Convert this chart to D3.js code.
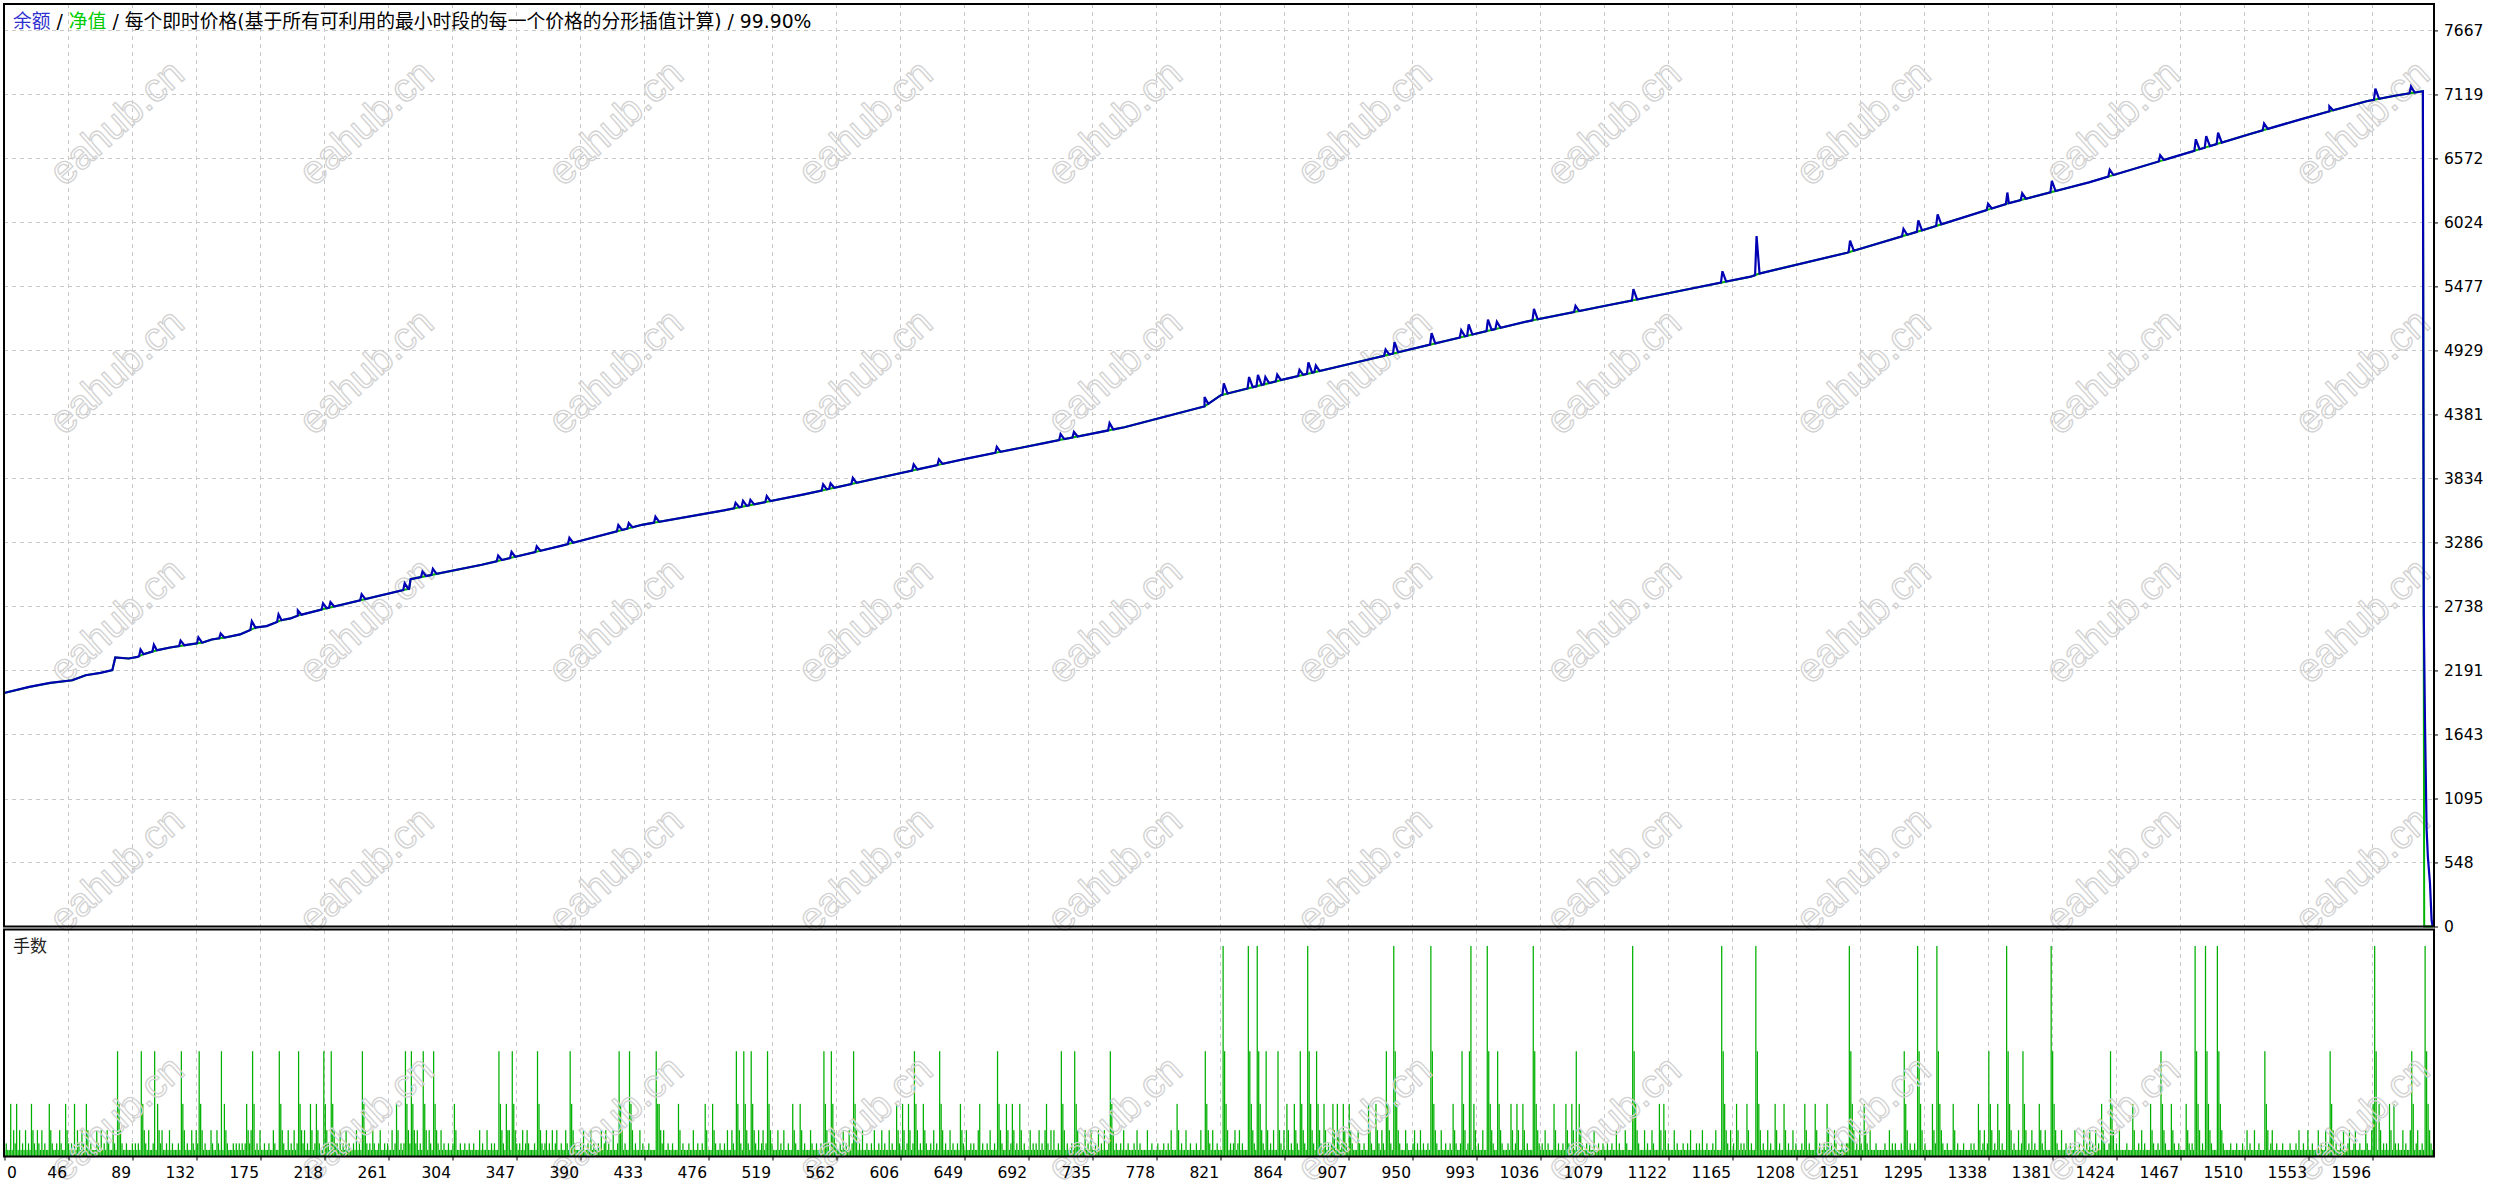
<!DOCTYPE html>
<html>
<head>
<meta charset="utf-8">
<script src="https://cdn.jsdelivr.net/npm/d3@7"></script>
<style>
  body { margin: 0; background: #fff; }
  svg { display: block; }
</style>
</head>
<body>
<svg id="chart" width="2519" height="1186"></svg>
<script>
// ---- data ----
var yTickLabels = [0, 548, 1095, 1643, 2191, 2738, 3286, 3834, 4381, 4929, 5477, 6024, 6572, 7119, 7667]
var xTickLabels = [0, 46, 89, 132, 175, 218, 261, 304, 347, 390, 433, 476, 519, 562, 606, 649, 692, 735, 778,
    821, 864, 907, 950, 993, 1036, 1079, 1122, 1165, 1208, 1251, 1295, 1338, 1381, 1424, 1467, 1510, 1553, 1596]
var TRADES = 1637

// balance / equity base line (trade number, value)
var baseTrade = [0, 17, 31, 46, 55, 65, 73, 75, 84, 90, 94, 103, 112, 122, 134, 140, 149, 159, 170, 177, 187, 193,
    198, 214, 273, 274, 322, 376, 430, 485, 539, 593, 647, 701, 755, 809, 820, 863, 918, 972, 1026, 1080, 1134,
    1177, 1183, 1242, 1296, 1351, 1405, 1459, 1513, 1547, 1567, 1592, 1612, 1630]
var baseValue = [1998, 2050, 2084, 2107, 2150, 2170, 2193, 2302, 2293, 2307, 2330, 2364, 2387, 2407, 2430, 2456,
    2473, 2499, 2559, 2570, 2621, 2636, 2660, 2712, 2890, 2972, 3095, 3259, 3437, 3560, 3697, 3848, 3999, 4136,
    4272, 4450, 4546, 4683, 4847, 5012, 5176, 5313, 5450, 5560, 5587, 5765, 5970, 6189, 6367, 6572, 6778, 6904,
    6975, 7061, 7110, 7147]
// small bumps of the blue line (trade number, rise above the base line)
var bumpTrade = [92, 101, 119, 131, 146, 167, 185, 198,
    215, 220, 241, 270, 282, 289,
    333, 342, 359, 381,
    414, 421, 439,
    493, 498, 503, 514,
    552, 557, 572,
    613, 630, 669,
    712, 721, 745,
    809, 822,
    839, 845, 850, 858,
    873, 879, 884,
    931, 937,
    962,
    982, 987,
    1000, 1006,
    1031, 1059,
    1098,
    1158, 1181,
    1244,
    1280, 1290, 1303,
    1337, 1350, 1360, 1380,
    1419, 1453,
    1477, 1484, 1492,
    1523, 1567, 1598, 1622]
var bumpRise = [51, 55, 45, 50, 40, 70, 60, 44,
    50, 45, 50, 55, 45, 50,
    45, 50, 45, 50,
    50, 45, 50,
    45, 50, 45, 50,
    50, 45, 50,
    50, 45, 50,
    50, 45, 60,
    80, 95,
    95, 95, 60, 55,
    50, 95, 55,
    50, 95,
    95,
    60, 95,
    95, 60,
    95, 50,
    95,
    95, 330,
    95,
    60, 95, 95,
    50, 95, 55, 95,
    55, 50,
    95, 95, 95,
    55, 43, 94, 57]
// final collapse of the balance
var dropTrade = [1630.6, 1631.4, 1632.5, 1633.4, 1634.8, 1635.9, 1636.6]
var dropValue = [2681, 1764, 839, 591, 368, 51, 0]

// lots per trade (every trade not listed below is 0.01)
var lot32 = [821, 838, 844, 878, 936, 961, 988, 999, 1030, 1097, 1157, 1180, 1243, 1289, 1302, 1349, 1379, 1476,
    1483, 1491, 1597, 1631]
var lot16 = [76, 92, 101, 119, 131, 146, 167, 185, 198, 215, 220, 241, 270, 274, 282, 289, 333, 342, 359, 381, 414,
    421, 439, 493, 498, 503, 514, 552, 557, 572, 613, 630, 669, 712, 721, 745, 809, 822, 839, 845, 850, 858, 873,
    879, 884, 931, 937, 962, 982, 987, 1000, 1006, 1031, 1059, 1098, 1158, 1181, 1244, 1280, 1290, 1303, 1337,
    1350, 1360, 1380, 1419, 1453, 1477, 1484, 1492, 1523, 1567, 1598, 1622, 1632]
var lot08 = [4, 8, 18, 30, 41, 47, 55, 77, 93, 103, 120, 132, 148, 163, 168, 186, 199, 206, 210, 216, 221, 242, 264,
    271, 275, 283, 290, 303, 334, 338, 343, 360, 382, 415, 422, 440, 441, 454, 472, 477, 494, 499, 504, 515, 531,
    536, 553, 558, 573, 601, 605, 609, 614, 619, 631, 644, 657, 670, 675, 679, 684, 702, 713, 722, 746, 790, 810,
    823, 840, 846, 864, 869, 874, 880, 885, 889, 895, 898, 902, 906, 919, 924, 932, 938, 963, 976, 983, 990,
    1001, 1007, 1015, 1019, 1023, 1032, 1044, 1052, 1056, 1061, 1099, 1115, 1118, 1159, 1167, 1174, 1182, 1193,
    1199, 1213, 1220, 1228, 1245, 1253, 1281, 1291, 1299, 1304, 1313, 1330, 1338, 1343, 1351, 1361, 1371, 1381,
    1413, 1420, 1434, 1446, 1454, 1460, 1470, 1478, 1485, 1493, 1524, 1568, 1596, 1600, 1607, 1610, 1623, 1633]
var lot04 = [6, 10, 14, 19, 22, 25, 31, 37, 42, 49, 52, 56, 62, 65, 69, 73, 78, 94, 97, 104, 106, 111, 121, 126, 129,
    133, 139, 143, 149, 164, 166, 172, 181, 187, 191, 195, 200, 202, 207, 211, 217, 222, 226, 230, 237, 243, 248,
    253, 261, 265, 272, 276, 278, 284, 286, 291, 294, 304, 320, 325, 335, 339, 340, 344, 349, 352, 361, 365, 369,
    372, 378, 383, 390, 395, 402, 405, 410, 416, 423, 428, 442, 444, 455, 464, 473, 478, 487, 490, 495, 500, 505,
    508, 511, 516, 521, 525, 532, 537, 543, 554, 559, 565, 569, 574, 578, 586, 591, 596, 602, 606, 610, 615, 620,
    626, 632, 637, 645, 648, 656, 664, 671, 676, 680, 685, 691, 697, 701, 705, 707, 714, 723, 728, 732, 737, 741,
    747, 754, 763, 770, 786, 791, 796, 806, 811, 814, 824, 829, 832, 841, 847, 851, 855, 859, 862, 865, 870, 875,
    881, 886, 890, 896, 899, 903, 907, 912, 920, 925, 928, 933, 939, 944, 950, 954, 964, 968, 977, 984, 991, 996,
    1002, 1008, 1016, 1020, 1024, 1033, 1038, 1045, 1053, 1057, 1062, 1071, 1086, 1092, 1100, 1105, 1110, 1116,
    1119, 1125, 1136, 1144, 1153, 1160, 1163, 1168, 1175, 1183, 1188, 1194, 1200, 1205, 1214, 1221, 1229, 1233,
    1246, 1250, 1254, 1257, 1270, 1282, 1292, 1300, 1305, 1314, 1331, 1334, 1339, 1344, 1352, 1357, 1362, 1366,
    1372, 1375, 1382, 1386, 1395, 1401, 1405, 1409, 1414, 1421, 1425, 1435, 1440, 1447, 1455, 1461, 1471, 1479,
    1486, 1494, 1511, 1516, 1525, 1528, 1546, 1552, 1559, 1564, 1569, 1576, 1580, 1584, 1591, 1595, 1601, 1608,
    1616, 1621, 1626, 1634]
var lot02 = [1, 7, 12, 16, 20, 23, 27, 32, 35, 38, 43, 45, 50, 53, 58, 63, 67, 70, 74, 79, 82, 86, 88, 90, 95, 100,
    105, 109, 113, 117, 123, 127, 130, 135, 140, 144, 150, 154, 156, 158, 160, 162, 165, 170, 175, 178, 182, 188,
    193, 197, 201, 204, 209, 212, 218, 223, 224, 228, 232, 235, 239, 244, 246, 249, 252, 256, 258, 263, 267, 269,
    273, 277, 280, 287, 292, 296, 299, 302, 307, 310, 313, 316, 322, 328, 330, 336, 345, 347, 351, 353, 357, 362,
    364, 367, 371, 375, 379, 384, 388, 393, 397, 400, 404, 407, 413, 418, 425, 430, 434, 443, 447, 450, 457, 461,
    467, 470, 479, 482, 485, 491, 496, 501, 506, 510, 513, 517, 523, 528, 533, 539, 544, 547, 550, 555, 560, 563,
    567, 571, 576, 581, 584, 589, 593, 598, 603, 608, 612, 617, 621, 624, 628, 634, 639, 642, 646, 651, 653, 659,
    662, 667, 672, 678, 682, 687, 693, 695, 699, 703, 710, 716, 719, 724, 730, 735, 739, 744, 749, 752, 757, 761,
    765, 773, 777, 781, 784, 793, 799, 803, 812, 817, 826, 828, 831, 834, 842, 848, 853, 860, 867, 871, 876, 882,
    887, 892, 894, 901, 904, 908, 913, 916, 921, 926, 929, 934, 940, 945, 949, 952, 956, 959, 965, 971, 974, 978,
    981, 986, 993, 1003, 1009, 1013, 1018, 1026, 1034, 1036, 1040, 1047, 1050, 1054, 1063, 1066, 1068, 1074, 1077,
    1080, 1083, 1088, 1093, 1101, 1107, 1111, 1121, 1127, 1131, 1134, 1140, 1142, 1147, 1151, 1161, 1165, 1170,
    1172, 1177, 1185, 1190, 1196, 1202, 1207, 1211, 1216, 1223, 1226, 1231, 1234, 1238, 1241, 1242, 1248, 1251,
    1255, 1261, 1267, 1272, 1274, 1278, 1284, 1287, 1294, 1301, 1306, 1309, 1316, 1320, 1325, 1327, 1333, 1336,
    1341, 1346, 1354, 1359, 1364, 1368, 1373, 1383, 1389, 1392, 1398, 1403, 1407, 1411, 1415, 1418, 1423, 1430,
    1438, 1442, 1448, 1451, 1456, 1462, 1465, 1472, 1474, 1481, 1487, 1495, 1500, 1504, 1508, 1513, 1519, 1527,
    1531, 1535, 1540, 1544, 1549, 1555, 1561, 1566, 1571, 1574, 1579, 1583, 1587, 1592, 1603, 1605, 1611, 1613,
    1618, 1625, 1629, 1635]

// ---- layout ----
var L = 4, R = 2434
var mainTop = 4, mainBot = 926.5
var lowTop = 929.5, lowBot = 1156.5
var TICK_STEP = 43.13   // trades between two x labels
var axisFont = '"DejaVu Sans", Tahoma, sans-serif'

var svg = d3.select('#chart')

var x = d3.scaleLinear().domain([0, TRADES + 0.5]).range([L, R])
var y = d3.scaleLinear().domain([0, 7893]).range([mainBot, mainTop])
var yLot = d3.scaleLinear().domain([0, 0.345]).range([lowBot, lowTop])
var xTickPos = function (i) { return Math.round(x(i * TICK_STEP)) + 0.5 }

// grid
var grid = svg.append('g').attr('stroke', '#c8c8c8').attr('stroke-dasharray', '4,4').attr('shape-rendering', 'crispEdges')
xTickLabels.forEach(function (d, i) {
    if (i == 0) return
    grid.append('line').attr('x1', xTickPos(i)).attr('x2', xTickPos(i)).attr('y1', mainTop).attr('y2', mainBot)
    grid.append('line').attr('x1', xTickPos(i)).attr('x2', xTickPos(i)).attr('y1', lowTop).attr('y2', lowBot)
})
yTickLabels.forEach(function (d) {
    if (d == 0) return
    var yy = Math.round(y(d)) + 0.5
    grid.append('line').attr('x1', L).attr('x2', R).attr('y1', yy).attr('y2', yy)
})

// lots bars
var lots = []
for (var i = 0; i < TRADES; i++) lots.push(0.01)
;[[lot02, 0.02], [lot04, 0.04], [lot08, 0.08], [lot16, 0.16], [lot32, 0.32]].forEach(function (p) {
    p[0].forEach(function (n) { if (n < TRADES) lots[n] = p[1] })
})
svg.append('g').selectAll('rect').data(lots).enter().append('rect')
    .attr('x', function (d, i) { return x(i + 0.5) - 0.6 })
    .attr('width', 1.25)
    .attr('y', function (d) { return yLot(d) })
    .attr('height', function (d) { return lowBot - yLot(d) })
    .attr('fill', '#00b000')

// watermark (outline only)
var wm = svg.append('g').attr('font-family', '"Liberation Sans", Arial, sans-serif').attr('font-size', 40)
    .attr('fill', 'none').attr('stroke', '#d2d2d2').attr('stroke-width', 1.3).attr('text-anchor', 'middle')
for (var r = 0; r < 5; r++) {
    for (var c = 0; c < 10; c++) {
        var cx = 116 + 249.5 * c, cy = 122 + 249 * r
        wm.append('text').attr('transform', 'translate(' + cx + ',' + cy + ') rotate(-42)')
            .attr('dy', '0.35em').text('eahub.cn')
    }
}

// lines: equity follows the base line, balance adds the bumps
var base = d3.scaleLinear().domain(baseTrade).range(baseValue)
var eqPts = baseTrade.map(function (t, i) { return [t, baseValue[i]] })
eqPts.push([1630.9, 0], [TRADES, 0])

var balPts = baseTrade.map(function (t, i) { return [t, baseValue[i]] })
bumpTrade.forEach(function (n, i) {
    balPts.push([n - 1, base(n - 1)], [n, base(n) + bumpRise[i]], [n + 2.5, base(n + 2.5)])
})
balPts.sort(function (a, b) { return a[0] - b[0] })
dropTrade.forEach(function (t, i) { balPts.push([t, dropValue[i]]) })

var line = d3.line().x(function (d) { return x(d[0]) }).y(function (d) { return y(d[1]) })
svg.append('path').datum(eqPts).attr('d', line).attr('fill', 'none').attr('stroke', '#00b400').attr('stroke-width', 2)
svg.append('path').datum(balPts).attr('d', line).attr('fill', 'none').attr('stroke', '#0000b4')
    .attr('stroke-width', 2.2).attr('stroke-linejoin', 'miter')

// frames
svg.append('rect').attr('x', L).attr('y', mainTop).attr('width', R - L).attr('height', mainBot - mainTop)
    .attr('fill', 'none').attr('stroke', '#000').attr('stroke-width', 2)
svg.append('rect').attr('x', L).attr('y', lowTop).attr('width', R - L).attr('height', lowBot - lowTop)
    .attr('fill', 'none').attr('stroke', '#000').attr('stroke-width', 2)

// y axis (right)
var yAxis = svg.append('g').attr('transform', 'translate(' + R + ',0)')
    .call(d3.axisRight(y).tickValues(yTickLabels).tickSize(4).tickPadding(6).tickFormat(function (d) { return d }))
yAxis.select('.domain').remove()
yAxis.selectAll('text').attr('font-family', axisFont).attr('font-size', 15.5).attr('fill', '#000')
yAxis.selectAll('line').attr('stroke', '#000')

// x axis (bottom)
var xt = d3.scaleLinear().domain([0, xTickLabels.length - 1]).range([xTickPos(0), xTickPos(xTickLabels.length - 1)])
var xAxis = svg.append('g').attr('transform', 'translate(0,' + lowBot + ')')
    .call(d3.axisBottom(xt).tickValues(d3.range(xTickLabels.length)).tickSize(4).tickPadding(6)
        .tickFormat(function (i) { return xTickLabels[i] }))
xAxis.select('.domain').remove()
xAxis.selectAll('line').attr('stroke', '#000')
xAxis.selectAll('text').attr('font-family', axisFont).attr('font-size', 15.5).attr('fill', '#000')
    .attr('text-anchor', function (i) { return i == 0 ? 'start' : 'end' })
    .attr('dx', function (i) { return i == 0 ? 2 : -2 })

// title
var title = svg.append('text').attr('x', 13).attr('y', 28).attr('font-size', 18.8)
    .attr('font-family', '"DejaVu Sans", "Noto Sans CJK SC", sans-serif')
title.append('tspan').attr('fill', '#3030d0').text('余额')
title.append('tspan').attr('fill', '#000').text(' / ')
title.append('tspan').attr('fill', '#00cc00').text('净值')
title.append('tspan').attr('fill', '#000').text(' / 每个即时价格(基于所有可利用的最小时段的每一个价格的分形插值计算) / 99.90%')

svg.append('text').attr('x', 13).attr('y', 952).attr('font-size', 17).attr('fill', '#222')
    .attr('font-family', '"Noto Sans CJK SC", sans-serif').text('手数')
</script>
</body>
</html>
